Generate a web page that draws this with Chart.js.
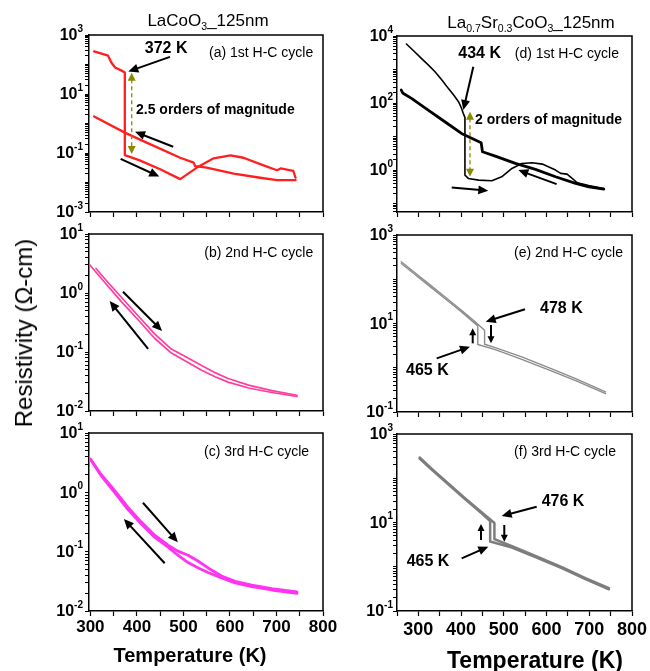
<!DOCTYPE html>
<html>
<head>
<meta charset="utf-8">
<script src="https://cdn.jsdelivr.net/npm/chart.js@4.4.0/dist/chart.umd.min.js"></script>
<style>
  body { margin: 0; background: #fff; }
  #wrap { position: relative; width: 650px; height: 671px; overflow: hidden; font-family: "Liberation Sans", Arial, sans-serif; }
  #wrap canvas { position: absolute; left: 0; top: 0; }
  .txt { position: absolute; white-space: nowrap; transform: translate(-50%, -50%); color: #000; }
  .txt sub { font-size: 0.62em; vertical-align: -0.35em; line-height: 0; }
</style>
</head>
<body>
<div id="wrap">
  <canvas id="pa" width="650" height="671"></canvas>
  <canvas id="pb" width="650" height="671"></canvas>
  <canvas id="pc" width="650" height="671"></canvas>
  <canvas id="pd" width="650" height="671"></canvas>
  <canvas id="pe" width="650" height="671"></canvas>
  <canvas id="pf" width="650" height="671"></canvas>

  <div class="txt" style="left:208px;top:21px;font-size:17px">LaCoO<sub>3</sub>_125nm</div>
  <div class="txt" style="left:531px;top:23px;font-size:17px">La<sub>0.7</sub>Sr<sub>0.3</sub>CoO<sub>3</sub>_125nm</div>
  <div class="txt" style="left:24px;top:333px;font-size:24px;transform:translate(-50%,-50%) rotate(-90deg)">Resistivity (&Omega;-cm)</div>
  <div class="txt" style="left:190px;top:655px;font-size:20px;font-weight:bold">Temperature (K)</div>
  <div class="txt" style="left:535px;top:660px;font-size:23px;font-weight:bold">Temperature (K)</div>
</div>

<script>
// ---- data: temperature (K) and resistivity (ohm-cm) ----

// (a) LaCoO3, 1st heating-cooling cycle
const aHeatT = [308, 338, 345, 353, 367, 374, 374, 406, 450, 493, 529, 565, 601, 629, 665, 701, 709, 736, 741];
const aHeatR = [279, 200, 117, 79, 62, 54, 0.085, 0.056, 0.028, 0.013, 0.032, 0.066, 0.083, 0.069, 0.042, 0.026, 0.030, 0.025, 0.0145];
const aCoolT = [741, 701, 665, 608, 550, 525, 522, 493, 428, 374, 308];
const aCoolR = [0.012, 0.012, 0.0145, 0.020, 0.032, 0.036, 0.047, 0.069, 0.20, 0.49, 1.74];

// (b) LaCoO3, 2nd cycle
const bHeatT = [312, 337, 366, 402, 438, 474, 510, 539, 568, 596, 640, 690, 744];
const bHeatR = [2.60, 1.54, 0.855, 0.416, 0.203, 0.112, 0.0794, 0.0589, 0.0447, 0.0355, 0.0275, 0.0221, 0.0185];
const bCoolT = [744, 690, 640, 596, 568, 539, 510, 474, 438, 402, 366, 330, 298];
const bCoolR = [0.0176, 0.0206, 0.0245, 0.0309, 0.0380, 0.0490, 0.0661, 0.0961, 0.171, 0.356, 0.721, 1.54, 3.04];

// (c) LaCoO3, 3rd cycle
const cHeatT = [301, 323, 352, 380, 409, 438, 467, 488, 510, 532, 553, 582, 611, 647, 690, 744];
const cHeatR = [3.55, 2.00, 1.08, 0.570, 0.318, 0.190, 0.129, 0.102, 0.0871, 0.0690, 0.0532, 0.0390, 0.0317, 0.0272, 0.0239, 0.0209];
const cCoolT = [744, 690, 647, 611, 582, 553, 532, 510, 488, 467, 438, 409, 380, 352, 323, 300];
const cCoolR = [0.0199, 0.0226, 0.0258, 0.0297, 0.0361, 0.0445, 0.0532, 0.0655, 0.0871, 0.119, 0.175, 0.294, 0.521, 0.995, 1.91, 3.64];

// (d) La0.7Sr0.3CoO3, 1st cycle
const dHeatT = [272, 290, 307, 323, 339, 355, 370, 383, 394, 401, 405, 409, 409, 417, 441, 472, 495, 519, 542, 566, 590, 621, 633, 648, 660, 672, 699, 734];
const dHeatR = [5770, 3500, 2150, 1380, 861, 490, 274, 170, 110, 70, 49.2, 37.3, 0.710, 0.564, 0.502, 0.480, 0.632, 1.12, 1.58, 1.66, 1.51, 1.00, 0.796, 0.760, 0.564, 0.419, 0.348, 0.284];
const dCoolT = [734, 699, 668, 621, 574, 527, 480, 450, 447, 401, 362, 323, 284, 264, 260];
const dCoolR = [0.271, 0.318, 0.400, 0.632, 1.05, 1.58, 2.62, 3.52, 6.55, 12.4, 27.7, 61.8, 138, 195, 244];

// (e) La0.7Sr0.3CoO3, 2nd cycle
const eHeatT = [260, 292, 323, 362, 401, 433, 455, 455, 480, 542, 605, 668, 738];
const eHeatR = [249, 140, 80.5, 40.2, 20.0, 10.9, 7.06, 3.40, 2.86, 1.76, 1.01, 0.569, 0.284];
const eCoolT = [738, 668, 605, 542, 480, 439, 439, 401, 362, 323, 292, 260];
const eCoolR = [0.260, 0.513, 0.897, 1.55, 2.56, 3.35, 8.83, 18.3, 36.6, 73.5, 128, 227];

// (f) La0.7Sr0.3CoO3, 3rd cycle
const fHeatT = [303, 331, 370, 409, 448, 478, 478, 519, 574, 637, 691, 746];
const fHeatR = [294, 165, 76.6, 35.5, 17.0, 9.72, 4.20, 2.91, 1.75, 0.966, 0.553, 0.327];
const fCoolT = [746, 691, 637, 574, 519, 468, 468, 448, 409, 370, 331, 303];
const fCoolR = [0.310, 0.525, 0.918, 1.66, 2.72, 3.72, 10.8, 16.1, 33.7, 72.6, 157, 279];

// tick labels
const aYExp = [-3, -1, 1, 3];
const bYExp = [-2, -1, 0, 1];
const cYExp = [-2, -1, 0, 1];
const dYExp = [0, 2, 4];
const eYExp = [-1, 1, 3];
const fYExp = [-1, 1, 3];
const xLabelsK = [300, 400, 500, 600, 700, 800];

const FONT = '"Liberation Sans", Arial, sans-serif';
const OLIVE = '#8a8a00';
const big = 'bold 16px ' + FONT;
const mid = 'bold 14px ' + FONT;
const cap = '14px ' + FONT;

const toXY = (ts, rs) => ts.map((t, i) => ({ x: t, y: rs[i] }));

function logTicks(min, max) {
  const out = [];
  for (let e = Math.floor(Math.log10(min)); e <= Math.ceil(Math.log10(max)); e++) {
    for (let k = 1; k <= 9; k++) {
      const v = k * Math.pow(10, e);
      if (v >= min * 0.999 && v <= max * 1.001) out.push({ value: v });
    }
  }
  return out;
}

function linTicks(min, max, step) {
  const out = [];
  for (let v = Math.ceil(min / step) * step; v <= max; v += step) out.push({ value: v });
  return out;
}

function drawHead(ctx, x, y, ang, hl, hw) {
  ctx.beginPath();
  ctx.moveTo(x, y);
  ctx.lineTo(x - hl * Math.cos(ang) + hw * Math.sin(ang), y - hl * Math.sin(ang) - hw * Math.cos(ang));
  ctx.lineTo(x - hl * Math.cos(ang) - hw * Math.sin(ang), y - hl * Math.sin(ang) + hw * Math.cos(ang));
  ctx.closePath();
  ctx.fill();
}

function drawArrow(ctx, x1, y1, x2, y2, o) {
  const ang = Math.atan2(y2 - y1, x2 - x1);
  const hl = o.head || 10, hw = o.hw || 4.5;
  const c = Math.cos(ang), s = Math.sin(ang);
  ctx.strokeStyle = o.color || '#000';
  ctx.fillStyle = o.color || '#000';
  ctx.lineWidth = o.width || 2;
  ctx.setLineDash(o.dash || []);
  ctx.beginPath();
  ctx.moveTo(o.both ? x1 + c * hl * 0.8 : x1, o.both ? y1 + s * hl * 0.8 : y1);
  ctx.lineTo(x2 - c * hl * 0.8, y2 - s * hl * 0.8);
  ctx.stroke();
  ctx.setLineDash([]);
  drawHead(ctx, x2, y2, ang, hl, hw);
  if (o.both) drawHead(ctx, x1, y1, ang + Math.PI, hl, hw);
}

// frame, tick labels and annotations, all placed through the chart scales
function decor(p) {
  return {
    id: 'decor',
    afterDraw(chart) {
      const { ctx, chartArea: a, scales: { x, y } } = chart;
      ctx.save();
      ctx.strokeStyle = '#000';
      ctx.lineWidth = 1.5;
      ctx.beginPath();
      ctx.moveTo(a.left, a.top);
      ctx.lineTo(a.right, a.top);
      ctx.lineTo(a.right, a.bottom);
      ctx.stroke();

      ctx.fillStyle = '#000';
      ctx.textBaseline = 'middle';
      ctx.textAlign = 'left';
      p.yExp.forEach(n => {
        const py = y.getPixelForValue(Math.pow(10, n));
        const sup = String(n);
        ctx.font = 'bold 16px ' + FONT;
        const w1 = ctx.measureText('10').width;
        ctx.font = 'bold 10px ' + FONT;
        const w2 = ctx.measureText(sup).width;
        const right = a.left - p.yGap;
        ctx.font = 'bold 16px ' + FONT;
        ctx.fillText('10', right - w2 - w1, py + 1);
        ctx.font = 'bold 10px ' + FONT;
        ctx.fillText(sup, right - w2, py - 6);
      });

      if (p.xLabels) {
        ctx.textAlign = 'center';
        ctx.font = 'bold ' + p.xFont + 'px ' + FONT;
        p.xLabels.forEach(v => ctx.fillText(String(v), x.getPixelForValue(v), a.bottom + p.xOff));
      }

      p.notes.forEach(n => {
        if (n.text) {
          ctx.font = n.font;
          ctx.textAlign = n.align || 'left';
          ctx.fillStyle = '#000';
          ctx.fillText(n.text, x.getPixelForValue(n.x), y.getPixelForValue(n.y));
        } else {
          drawArrow(ctx, x.getPixelForValue(n.x1), y.getPixelForValue(n.y1),
            x.getPixelForValue(n.x2), y.getPixelForValue(n.y2), n);
        }
      });
      ctx.restore();
    }
  };
}

function makePanel(p) {
  const [L, T, R, B] = p.box;
  return new Chart(document.getElementById(p.id), {
    type: 'scatter',
    data: {
      datasets: p.series.map(s => ({
        data: toXY(s.t, s.r),
        showLine: true,
        borderColor: s.color,
        borderWidth: s.width,
        borderJoinStyle: 'round',
        borderCapStyle: 'round',
        pointRadius: 0,
        pointHoverRadius: 0,
        tension: 0,
        fill: false
      }))
    },
    options: {
      responsive: false,
      animation: false,
      events: [],
      layout: { padding: { left: L - 5, top: T, right: 650 - R, bottom: 671 - B - 5 } },
      plugins: { legend: { display: false }, tooltip: { enabled: false } },
      scales: {
        x: {
          type: 'linear', min: p.xMin, max: p.xMax,
          afterFit: s => { s.height = 5; },
          afterBuildTicks: s => { s.ticks = linTicks(p.xMin, p.xMax, 50); },
          ticks: { display: false },
          grid: { drawOnChartArea: false, tickLength: 5, tickColor: '#000', tickWidth: 1.2 },
          border: { display: true, color: '#000', width: 1.5 }
        },
        y: {
          type: 'logarithmic', min: p.yMin, max: p.yMax,
          afterFit: s => { s.width = 5; },
          afterBuildTicks: s => { s.ticks = logTicks(p.yMin, p.yMax); },
          ticks: { display: false },
          grid: { drawOnChartArea: false, tickLength: 4, tickColor: '#000', tickWidth: 1 },
          border: { display: true, color: '#000', width: 1.5 }
        }
      }
    },
    plugins: [decor(p)]
  });
}

// (a)
makePanel({
  id: 'pa', box: [89, 35, 323, 212], xMin: 297, xMax: 800, yMin: 1e-3, yMax: 1e3,
  yExp: aYExp, yGap: 6,
  series: [
    { t: aHeatT, r: aHeatR, color: '#ff1f1f', width: 2.3 },
    { t: aCoolT, r: aCoolR, color: '#ff1f1f', width: 2.3 }
  ],
  notes: [
    { text: '(a) 1st H-C cycle', x: 779, y: 10 ** 2.40, font: cap, align: 'right' },
    { text: '372 K', x: 417, y: 10 ** 2.54, font: big },
    { x1: 471, y1: 10 ** 2.26, x2: 381.5, y2: 10 ** 1.76 },
    { x1: 388.8, y1: 10 ** 1.72, x2: 388.8, y2: 10 ** -1.03, color: OLIVE, width: 1.3, dash: [4, 3], both: true, head: 8, hw: 4 },
    { text: '2.5 orders of magnitude', x: 398, y: 10 ** 0.46, font: mid },
    { x1: 478, y1: 10 ** -0.79, x2: 396, y2: 10 ** -0.28 },
    { x1: 365, y1: 10 ** -1.20, x2: 448, y2: 10 ** -1.80 }
  ]
});

// (b)
makePanel({
  id: 'pb', box: [89, 234, 323, 411], xMin: 297, xMax: 800, yMin: 1e-2, yMax: 1e1,
  yExp: bYExp, yGap: 6,
  series: [
    { t: bHeatT, r: bHeatR, color: '#ff3d9e', width: 1.7 },
    { t: bCoolT, r: bCoolR, color: '#ff3d9e', width: 1.7 }
  ],
  notes: [
    { text: '(b) 2nd H-C cycle', x: 779, y: 10 ** 0.683, font: cap, align: 'right' },
    { x1: 370, y1: 10 ** 0.022, x2: 454, y2: 10 ** -0.644 },
    { x1: 424, y1: 10 ** -0.949, x2: 341.5, y2: 10 ** -0.136 }
  ]
});

// (c)
makePanel({
  id: 'pc', box: [89, 433, 323, 611], xMin: 297, xMax: 800, yMin: 1e-2, yMax: 1e1,
  yExp: cYExp, yGap: 6, xLabels: xLabelsK, xFont: 17, xOff: 16,
  series: [
    { t: cHeatT, r: cHeatR, color: '#ff33f2', width: 2.8 },
    { t: cCoolT, r: cCoolR, color: '#ff33f2', width: 2.8 }
  ],
  notes: [
    { text: '(c) 3rd H-C cycle', x: 770, y: 10 ** 0.685, font: cap, align: 'right' },
    { x1: 413, y1: 10 ** -0.175, x2: 488, y2: 10 ** -0.843 },
    { x1: 459.7, y1: 10 ** -1.196, x2: 372, y2: 10 ** -0.45 }
  ]
});

// (d)
makePanel({
  id: 'pd', box: [397, 36, 632, 212], xMin: 250, xMax: 800, yMin: 0.0562, yMax: 1e4,
  yExp: dYExp, yGap: 4,
  series: [
    { t: dHeatT, r: dHeatR, color: '#000', width: 1.6 },
    { t: dCoolT, r: dCoolR, color: '#000', width: 2.8 }
  ],
  notes: [
    { text: '(d) 1st H-C cycle', x: 769.5, y: 10 ** 3.45, font: cap, align: 'right' },
    { text: '434 K', x: 393.5, y: 10 ** 3.48, font: big },
    { x1: 428.6, y1: 10 ** 3.08, x2: 405.2, y2: 10 ** 1.79 },
    { x1: 420.8, y1: 10 ** 1.74, x2: 420.8, y2: 10 ** -0.2, color: OLIVE, width: 1.3, dash: [4, 3], both: true, head: 8, hw: 4 },
    { text: '2 orders of magnitude', x: 432.5, y: 10 ** 1.49, font: mid },
    { x1: 623.7, y1: 10 ** -0.418, x2: 534, y2: 10 ** 0.0 },
    { x1: 378, y1: 10 ** -0.517, x2: 463.7, y2: 10 ** -0.618 }
  ]
});

// (e)
makePanel({
  id: 'pe', box: [397, 235, 632, 412], xMin: 250, xMax: 800, yMin: 0.1, yMax: 1e3,
  yExp: eYExp, yGap: 4,
  series: [
    { t: eHeatT, r: eHeatR, color: '#8c8c8c', width: 1.4 },
    { t: eCoolT, r: eCoolR, color: '#8c8c8c', width: 1.4 }
  ],
  notes: [
    { text: '(e) 2nd H-C cycle', x: 778.9, y: 10 ** 2.586, font: cap, align: 'right' },
    { text: '478 K', x: 584.7, y: 10 ** 1.328, font: big },
    { x1: 549.6, y1: 10 ** 1.321, x2: 457.6, y2: 10 ** 1.041 },
    { x1: 470, y1: 10 ** 0.966, x2: 470, y2: 10 ** 0.552, head: 7, hw: 3.5 },
    { x1: 427.2, y1: 10 ** 0.552, x2: 427.2, y2: 10 ** 0.891, head: 7, hw: 3.5 },
    { text: '465 K', x: 271.1, y: 10 ** -0.073, font: big },
    { x1: 342.9, y1: 10 ** 0.213, x2: 420.8, y2: 10 ** 0.476 }
  ]
});

// (f)
makePanel({
  id: 'pf', box: [397, 434, 632, 611], xMin: 250, xMax: 800, yMin: 0.1, yMax: 1e3,
  yExp: fYExp, yGap: 4, xLabels: xLabelsK, xFont: 18, xOff: 19,
  series: [
    { t: fHeatT, r: fHeatR, color: '#7d7d7d', width: 2.5 },
    { t: fCoolT, r: fCoolR, color: '#7d7d7d', width: 2.5 }
  ],
  notes: [
    { text: '(f) 3rd H-C cycle', x: 762.5, y: 10 ** 2.60, font: cap, align: 'right' },
    { text: '476 K', x: 588.6, y: 10 ** 1.47, font: big },
    { x1: 576.9, y1: 10 ** 1.357, x2: 495, y2: 10 ** 1.147 },
    { x1: 501.1, y1: 10 ** 0.944, x2: 501.1, y2: 10 ** 0.566, head: 7, hw: 3.5 },
    { x1: 446.6, y1: 10 ** 0.605, x2: 446.6, y2: 10 ** 0.966, head: 7, hw: 3.5 },
    { text: '465 K', x: 272.7, y: 10 ** 0.114, font: big },
    { x1: 401.4, y1: 10 ** 0.191, x2: 463.7, y2: 10 ** 0.453 }
  ]
});
</script>
</body>
</html>
